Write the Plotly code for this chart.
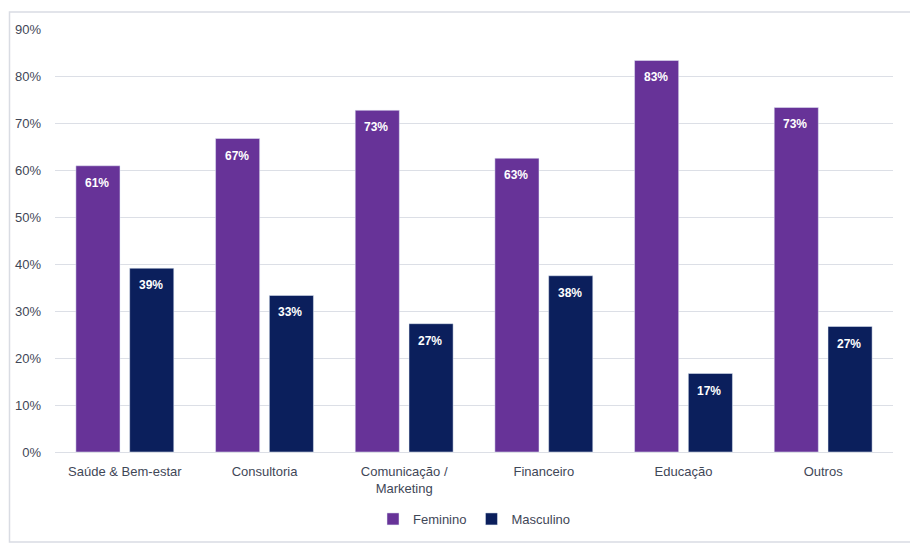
import plotly.graph_objects as go

categories = ["Saúde & Bem-estar", "Consultoria", "Comunicação /<br>Marketing",
              "Financeiro", "Educação", "Outros"]
feminino = [60.9, 66.7, 72.7, 62.5, 83.3, 73.3]
masculino = [39.1, 33.3, 27.3, 37.5, 16.7, 26.7]
tick_vals = [0, 10, 20, 30, 40, 50, 60, 70, 80, 90]
tick_text = [f"{v}%" for v in tick_vals]

PURPLE = "#673398"
NAVY = "#0B1F5C"
FONT = "Liberation Sans"
TXT = "#3F4757"

# page body has an 8px margin, so the figure starts at (8, 8)
OFF = 8
W, H = 910, 542
l, r, t, b = 55 - OFF, 25, 29 - OFF, 98
pw, ph = W - l - r, H - t - b

def px(x):
    return (x - OFF - l) / pw

def py(y):
    return (H - b - (y - OFF)) / ph

def pct(v):
    return f"{int(v + 0.5)}%"

BARGAP, GROUPGAP = 0.23, 0.18
slot = pw / len(categories) * (1 - BARGAP) / 2

fig = go.Figure()
fig.add_trace(go.Bar(name="Feminino", x=categories, y=feminino, marker_color=PURPLE))
fig.add_trace(go.Bar(name="Masculino", x=categories, y=masculino, marker_color=NAVY))

annotations = []
for series, sign in ((feminino, -1), (masculino, 1)):
    for c, v in zip(categories, series):
        annotations.append(dict(
            x=c, y=v, xref="x", yref="y", text=f"<b>{pct(v)}</b>",
            showarrow=False, xshift=sign * slot / 2 - 1, yshift=-17,
            xanchor="center", yanchor="middle",
            font=dict(color="white", size=12, family=FONT),
        ))

fig.update_layout(
    width=W, height=H,
    margin=dict(l=l, r=r, t=t, b=b, pad=0, autoexpand=False),
    paper_bgcolor="white", plot_bgcolor="white",
    barmode="group", bargap=BARGAP, bargroupgap=GROUPGAP,
    font=dict(family=FONT, size=13, color=TXT),
    showlegend=True,
    legend=dict(orientation="h", x=0.5, xanchor="center", y=py(519), yanchor="middle",
                font=dict(size=13, color=TXT, family=FONT), itemwidth=30,
                traceorder="normal"),
    xaxis=dict(showgrid=False, showline=False, ticks="", ticklabelstandoff=10,
               automargin=False, tickfont=dict(size=13, color=TXT)),
    yaxis=dict(range=[0, 90], tickvals=tick_vals, ticktext=tick_text,
               showgrid=True, gridcolor="#DCDFE6", gridwidth=1,
               zeroline=True, zerolinecolor="#DCDFE6", zerolinewidth=1,
               showline=False, ticks="", ticklabelstandoff=13, automargin=False,
               tickfont=dict(size=13, color=TXT)),
    annotations=annotations,
    shapes=[dict(type="rect", xref="paper", yref="paper",
                 x0=px(9.5), x1=px(912), y0=py(542), y1=py(12),
                 line=dict(color="#D9DCE3", width=1.5), fillcolor="rgba(0,0,0,0)",
                 layer="below")],
)

fig.write_html("out.html")
